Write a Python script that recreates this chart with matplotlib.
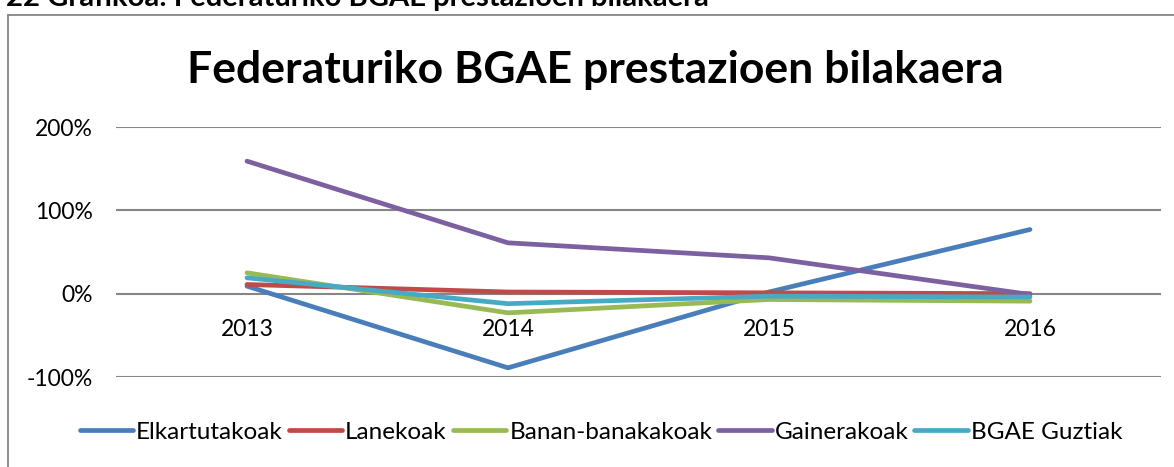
import matplotlib
matplotlib.use("Agg")
import matplotlib.pyplot as plt
from matplotlib.lines import Line2D

plt.rcParams['font.family'] = ['Lato', 'DejaVu Sans']

years = ["2013", "2014", "2015", "2016"]
series_names = ["Elkartutakoak", "Lanekoak", "Banan-banakakoak", "Gainerakoak", "BGAE Guztiak"]
elkartutakoak = [9, -89, 2, 77]
lanekoak = [11, 2, 1, 0]
banan_banakakoak = [25, -23, -7, -9]
gainerakoak = [159, 61, 43, -1]
bgae_guztiak = [19, -12, -3, -4]
yticks = [-100, 0, 100, 200]
ytick_labels = ["-100%", "0%", "100%", "200%"]
title = "Federaturiko BGAE prestazioen bilakaera"
caption = "22 Grafikoa: Federaturiko BGAE prestazioen bilakaera"

colors = ["#4A7EBB", "#BE4B48", "#98B954", "#7D60A0", "#46AAC5"]
values = [elkartutakoak, lanekoak, banan_banakakoak, gainerakoak, bgae_guztiak]

W, H = 1174, 467
fig = plt.figure(figsize=(W / 100, H / 100), dpi=100)

# chart frame (left and top border)
fig.add_artist(Line2D([8 / W, 8 / W], [0, 1 - 15 / H], color="#868686", lw=1.3))
fig.add_artist(Line2D([8 / W, 1], [1 - 15 / H, 1 - 15 / H], color="#868686", lw=1.3))

# caption cut at the top (as in the reference)
fig.text(6 / W, 1 - 6 / H, caption, fontsize=21, fontweight="bold", ha="left", va="baseline")

ax = fig.add_axes([116.5 / W, 1 - 377 / H, (1160.5 - 116.5) / W, (377 - 127) / H])
ax.set_xlim(-0.5, len(years) - 0.5)
ax.set_ylim(-100, 200)
for s in ax.spines.values():
    s.set_visible(False)
ax.set_yticks(yticks)
ax.set_yticklabels(ytick_labels)
ax.tick_params(axis="y", length=0, pad=17, labelsize=16.5)
ax.set_xticks([])
ax.grid(False)
for yv in yticks:
    ax.axhline(yv, color="#868686", lw=1.5, zorder=1)

x = list(range(len(years)))
for name, v, c in zip(series_names, values, colors):
    ax.plot(x, v, color=c, lw=3.4, solid_capstyle="round", solid_joinstyle="round", label=name, zorder=3)

for xi, lab in zip(x, years):
    ax.annotate(lab, (xi, 0), xytext=(0, -26), textcoords="offset points",
                ha="center", va="center", fontsize=16.5)

fig.text(595 / W, 1 - 70 / H, title, fontsize=32, fontweight="bold", ha="center", va="center")

fig.legend(loc="center", bbox_to_anchor=(601 / W, 1 - 432 / H), ncol=5, frameon=False,
           fontsize=17.5, handlelength=2.2, handletextpad=0.12, columnspacing=0.25)

fig.savefig("out.png", dpi=100)
